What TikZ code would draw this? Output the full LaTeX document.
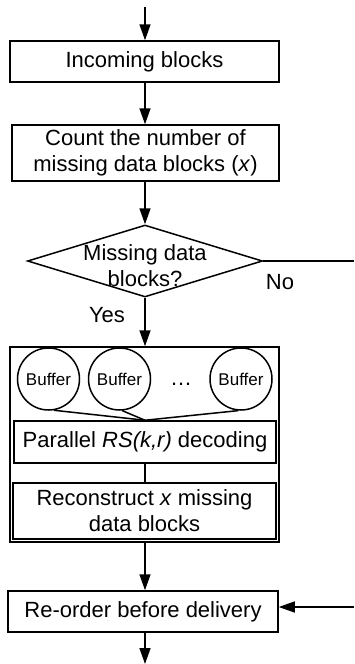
\documentclass[tikz,border=0pt]{standalone}
\usepackage{fontspec}
\setmainfont{Liberation Sans}
\usetikzlibrary{shapes.geometric,arrows.meta}
\begin{document}
\begin{tikzpicture}[x=1pt,y=-1pt,
  line width=1.5pt,
  txt/.style={font=\fontsize{22}{26}\selectfont, align=center, inner sep=0pt},
  box/.style={draw, rectangle, inner sep=0pt, txt},
  arr/.style={-{Triangle[length=16pt,width=11pt]}},
  buf/.style={draw, circle, minimum size=62pt, inner sep=0pt, font=\fontsize{17}{20}\selectfont}
]
\useasboundingbox (0,0) rectangle (354,664);
% boxes
\node[box, minimum width=269pt, minimum height=41pt] (inc) at (144.5,61.5) {Incoming blocks};
\node[box, minimum width=267pt, minimum height=56pt] (cnt) at (145.5,153) {Count the number of\\missing data blocks (\textit{x})};
\node[draw, diamond, minimum width=235pt, minimum height=72pt, inner sep=0pt] (dec) at (145,261) {};
\node[txt] (dect) at (145,266) {Missing data\\blocks?};
\node[draw, rectangle, minimum width=269pt, minimum height=195pt, inner sep=0pt] (big) at (144.5,444.5) {};
\node[buf] (c1) at (48.5,379) {Buffer};
\node[buf] (c2) at (119.5,379) {Buffer};
\node[buf] (c3) at (241,379) {Buffer};
\node[txt, anchor=base] (dots) at (181,385) {…};
\node[box, minimum width=262pt, minimum height=42pt] (par) at (145,442) {Parallel \textit{RS(k,r)} decoding};
\node[box, minimum width=263pt, minimum height=56pt] (rec) at (144.5,511) {Reconstruct \textit{x} missing\\data blocks};
\node[box, minimum width=270pt, minimum height=41pt] (reo) at (143,611.5) {Re-order before delivery};
% labels
\node[txt] (no) at (280,282) {No};
\node[txt] (yes) at (107,315) {Yes};
% coordinates
\coordinate (top) at (145,7);
\coordinate (noend) at (354,261);
\coordinate (inr) at (354,607);
\coordinate (bot) at (145,664);
% connectors
\draw[arr] (top) -- (top |- inc.north);
\draw[arr] (top |- inc.south) -- (top |- cnt.north);
\draw[arr] (top |- cnt.south) -- (dec.north);
\draw[arr] (dec.south) -- (dec.south |- big.north);
\draw (dec.east) -- (noend);
\draw (c1.-80) -- (par.north);
\draw (c2.-85) -- (par.north);
\draw (c3.-95) -- (par.north);
\draw (par.south) -- (par.south |- rec.north);
\draw[arr] (par.south |- big.south) -- (par.south |- reo.north);
\draw[arr] (inr) -- (inr -| reo.east);
\draw[arr] (par.south |- reo.south) -- (bot);
\end{tikzpicture}
\end{document}
